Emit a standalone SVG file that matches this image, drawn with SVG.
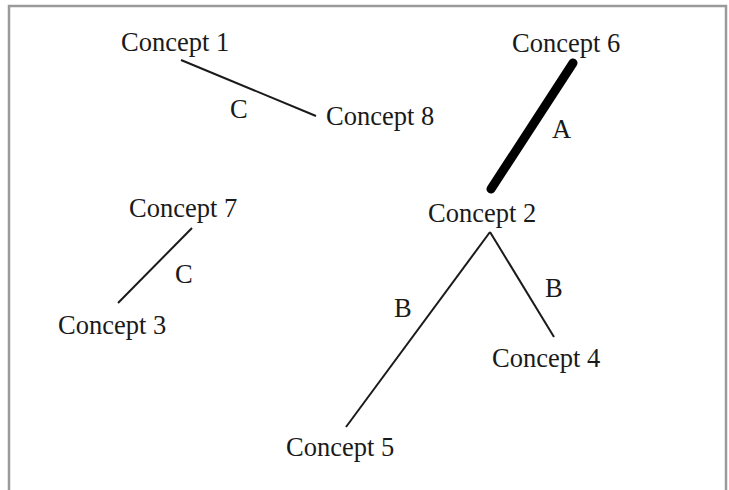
<svg xmlns="http://www.w3.org/2000/svg" width="729" height="490" viewBox="0 0 729 490">
<style>
.frame{fill:none;stroke:#9a9a9a;stroke-width:2.5}
.t{font-family:"Liberation Serif","Times New Roman",serif;font-size:26.5px;fill:#1a1a1a}
.l{font-family:"Liberation Serif","Times New Roman",serif;font-size:26.5px;fill:#1a1a1a}
.e{stroke:#1a1a1a;stroke-width:2;fill:none}
.thick{stroke:#000;stroke-width:9;stroke-linecap:round;fill:none}
</style>
<rect width="729" height="490" fill="#fff"/>
<path class="frame" d="M9,492 V6 H726 V492"/>
<g id="connectors">
<line class="e" x1="181" y1="60" x2="316" y2="116"/>
<line class="thick" x1="573" y1="63" x2="491" y2="189"/>
<line class="e" x1="192" y1="228" x2="118" y2="303"/>
<line class="e" x1="490" y1="232" x2="346" y2="427"/>
<line class="e" x1="490" y1="232" x2="554" y2="337"/>
<text class="l" x="230" y="118">C</text>
<text class="l" x="552" y="138">A</text>
<text class="l" x="175" y="283">C</text>
<text class="l" x="394" y="317">B</text>
<text class="l" x="545" y="297">B</text>
</g>
<g id="concept1"><text class="t" x="121" y="51">Concept 1</text></g>
<g id="concept6"><text class="t" x="512" y="52">Concept 6</text></g>
<g id="concept8"><text class="t" x="326" y="125">Concept 8</text></g>
<g id="concept7"><text class="t" x="129" y="217">Concept 7</text></g>
<g id="concept2"><text class="t" x="428" y="222">Concept 2</text></g>
<g id="concept3"><text class="t" x="58" y="334">Concept 3</text></g>
<g id="concept4"><text class="t" x="492" y="367">Concept 4</text></g>
<g id="concept5"><text class="t" x="286" y="456">Concept 5</text></g>
</svg>
